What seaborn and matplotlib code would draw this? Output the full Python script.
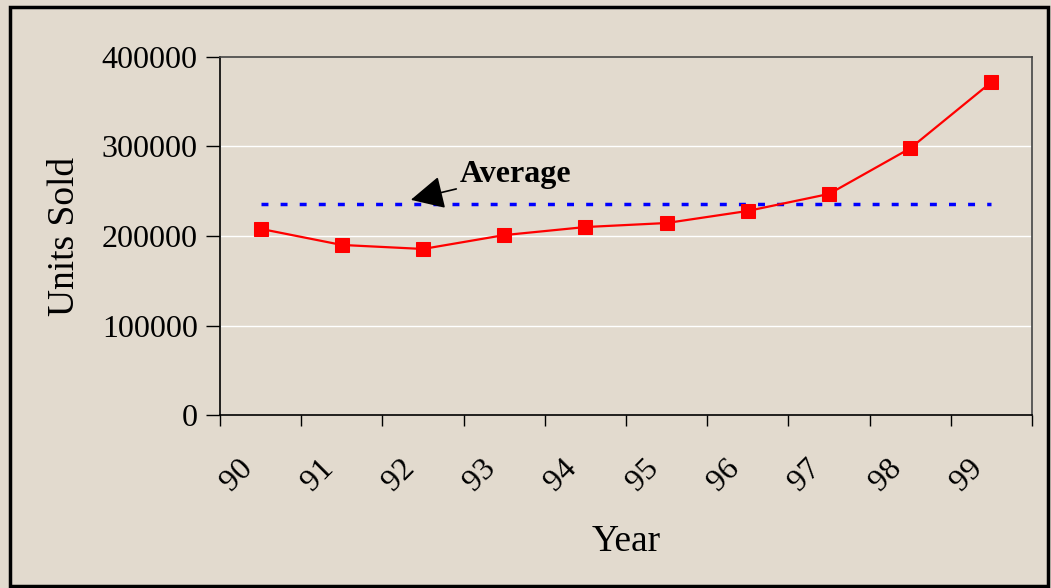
import numpy as np
import pandas as pd
import matplotlib
matplotlib.use("Agg")
import matplotlib.pyplot as plt
import matplotlib.transforms as mtransforms
from matplotlib.patches import Rectangle
import seaborn as sns

years = ["90", "91", "92", "93", "94", "95", "96", "97", "98", "99"]
units_sold = [208000, 190000, 185500, 201000, 210000, 214500, 228000, 247000, 298000, 372000]
y_ticks = [0, 100000, 200000, 300000, 400000]

df = pd.DataFrame({"Year": years, "Units Sold": units_sold})
average = df["Units Sold"].mean()

sns.set_style("white")
plt.rcParams["font.family"] = ["Liberation Serif", "DejaVu Serif"]
plt.rcParams["text.color"] = "black"
plt.rcParams["axes.labelcolor"] = "black"
plt.rcParams["xtick.color"] = "black"
plt.rcParams["ytick.color"] = "black"

bg = "#E2DACE"

fig = plt.figure(figsize=(10.51, 5.88), dpi=100)
fig.patch.set_facecolor(bg)
ax = fig.add_axes([0.2093, 0.2942, 0.7727, 0.6089])
ax.set_facecolor(bg)

# white gridlines
for v in y_ticks[1:-1]:
    ax.axhline(v, color="white", lw=1, zorder=0)

sns.lineplot(
    data=df,
    x="Year",
    y="Units Sold",
    sort=False,
    color="#FF0000",
    lw=1.6,
    marker="s",
    markersize=10,
    markeredgecolor="#FF0000",
    ax=ax,
    zorder=3
)

# average line
ax.plot(
    [0, len(years) - 1],
    [average, average],
    color="#0000FF",
    lw=2.5,
    linestyle=(0, (2, 3.5)),
    zorder=2
)

ax.annotate(
    "Average",
    xy=(1.85, average + 5000),
    xytext=(2.45, average + 33000),
    fontsize=23,
    fontweight="bold",
    va="center",
    ha="left",
    arrowprops=dict(arrowstyle="-|>,head_length=0.9,head_width=0.45",
                    color="black", lw=1.2, shrinkA=0, shrinkB=0)
)

ax.set_xlim(-0.5, len(years) - 0.5)
ax.set_ylim(0, 400000)
ax.set_yticks(y_ticks)
ax.set_yticklabels([str(v) for v in y_ticks], fontsize=23)

ax.set_xticks(np.arange(len(years)))
ax.set_xticklabels(years, fontsize=23, rotation=45, ha="center")
ax.set_xticks(np.arange(len(years) + 1) - 0.5, minor=True)
ax.tick_params(axis="x", which="major", bottom=True, length=0, pad=28)
ax.tick_params(axis="x", which="minor", bottom=True, length=8, width=1, color="black")
ax.tick_params(axis="y", left=True, length=10, width=1, color="black", pad=6)

offset = mtransforms.ScaledTranslation(-0.24, 0, fig.dpi_scale_trans)
for lab in ax.get_xticklabels():
    lab.set_transform(lab.get_transform() + offset)

ax.set_xlabel("Year", fontsize=27, labelpad=20)
ax.set_ylabel("Units Sold", fontsize=27, labelpad=14)

for side in ["left", "bottom"]:
    ax.spines[side].set_color("black")
    ax.spines[side].set_linewidth(1.2)
for side in ["top", "right"]:
    ax.spines[side].set_color("#444444")
    ax.spines[side].set_linewidth(1.2)

# outer frame
fig.patches.append(Rectangle((0.0095, 0.004), 0.988, 0.984, transform=fig.transFigure,
                             fill=False, edgecolor="black", lw=2.5))

fig.savefig("out.png", dpi=100, facecolor=bg)
